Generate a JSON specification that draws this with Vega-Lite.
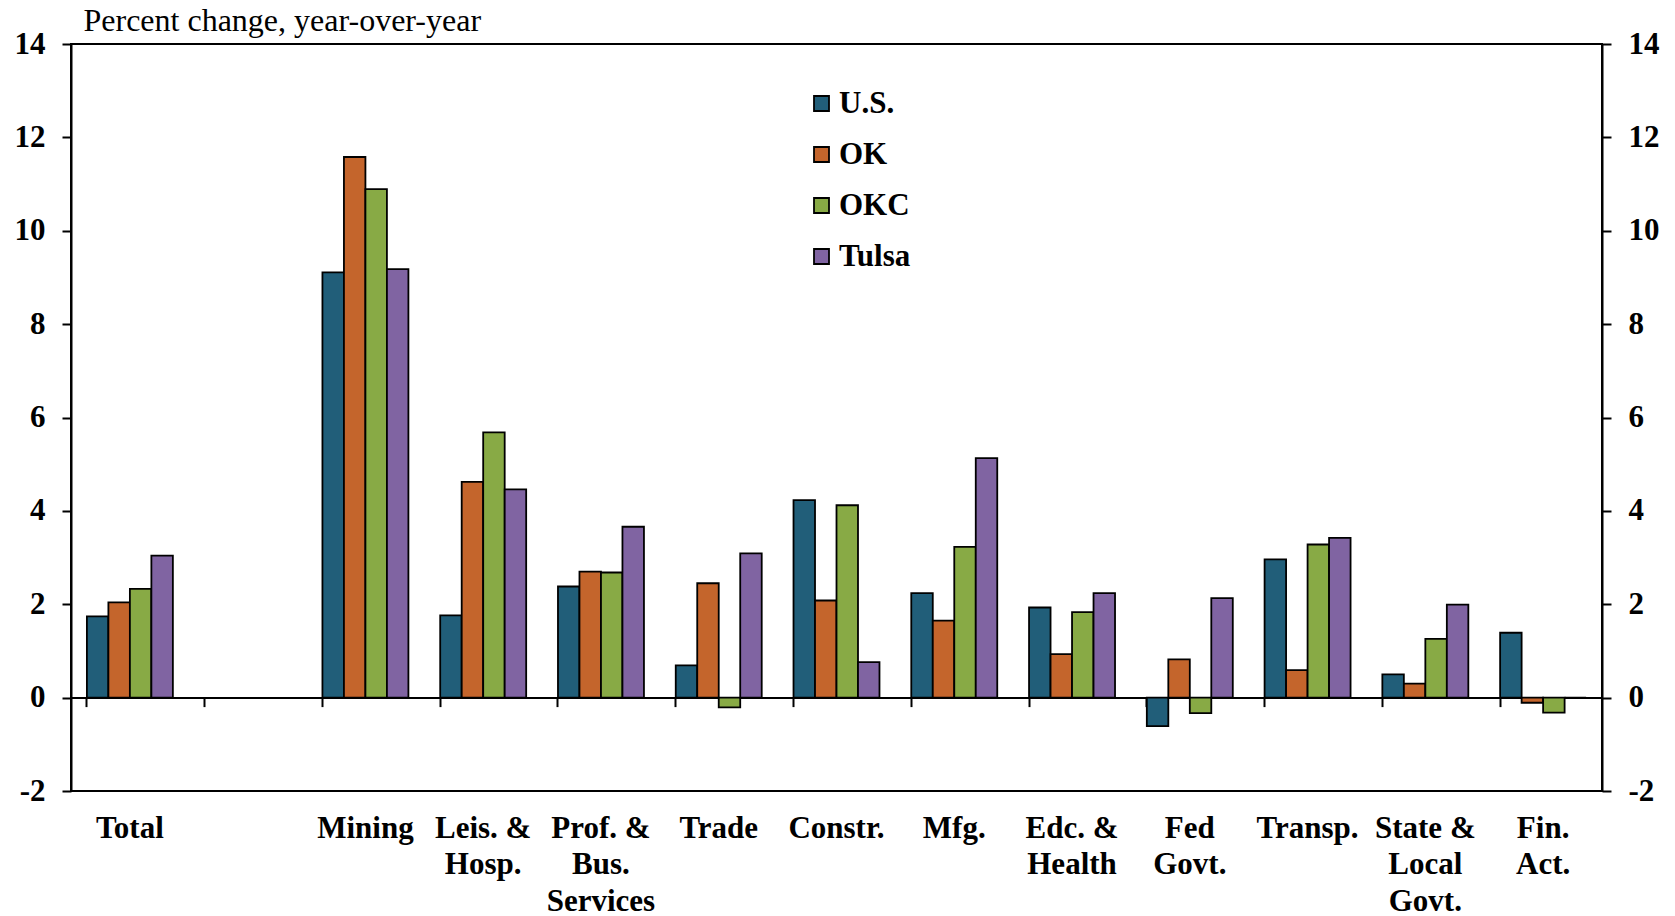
{
  "$schema": "https://vega.github.io/schema/vega-lite/v6.json",
  "autosize": {"type": "none"},
  "width": 1531,
  "height": 747,
  "padding": {"left": 71, "top": 44, "right": 73, "bottom": 125},
  "background": "white",
  "config": {
    "view": {"stroke": "black", "strokeWidth": 2},
    "font": "Liberation Serif"
  },
  "data": {
    "values": [
      {"cat": "Total", "series": "U.S.", "value": 1.74},
      {"cat": "Total", "series": "OK", "value": 2.04},
      {"cat": "Total", "series": "OKC", "value": 2.33},
      {"cat": "Total", "series": "Tulsa", "value": 3.04},
      {"cat": "Mining", "series": "U.S.", "value": 9.11},
      {"cat": "Mining", "series": "OK", "value": 11.58},
      {"cat": "Mining", "series": "OKC", "value": 10.89},
      {"cat": "Mining", "series": "Tulsa", "value": 9.18},
      {"cat": "Leis. &|Hosp.", "series": "U.S.", "value": 1.76},
      {"cat": "Leis. &|Hosp.", "series": "OK", "value": 4.62},
      {"cat": "Leis. &|Hosp.", "series": "OKC", "value": 5.68},
      {"cat": "Leis. &|Hosp.", "series": "Tulsa", "value": 4.46},
      {"cat": "Prof. &|Bus.|Services", "series": "U.S.", "value": 2.38},
      {"cat": "Prof. &|Bus.|Services", "series": "OK", "value": 2.7},
      {"cat": "Prof. &|Bus.|Services", "series": "OKC", "value": 2.68},
      {"cat": "Prof. &|Bus.|Services", "series": "Tulsa", "value": 3.66},
      {"cat": "Trade", "series": "U.S.", "value": 0.69},
      {"cat": "Trade", "series": "OK", "value": 2.45},
      {"cat": "Trade", "series": "OKC", "value": -0.21},
      {"cat": "Trade", "series": "Tulsa", "value": 3.09},
      {"cat": "Constr.", "series": "U.S.", "value": 4.23},
      {"cat": "Constr.", "series": "OK", "value": 2.08},
      {"cat": "Constr.", "series": "OKC", "value": 4.12},
      {"cat": "Constr.", "series": "Tulsa", "value": 0.76},
      {"cat": "Mfg.", "series": "U.S.", "value": 2.24},
      {"cat": "Mfg.", "series": "OK", "value": 1.65},
      {"cat": "Mfg.", "series": "OKC", "value": 3.23},
      {"cat": "Mfg.", "series": "Tulsa", "value": 5.13},
      {"cat": "Edc. &|Health", "series": "U.S.", "value": 1.93},
      {"cat": "Edc. &|Health", "series": "OK", "value": 0.93},
      {"cat": "Edc. &|Health", "series": "OKC", "value": 1.83},
      {"cat": "Edc. &|Health", "series": "Tulsa", "value": 2.24},
      {"cat": "Fed|Govt.", "series": "U.S.", "value": -0.61},
      {"cat": "Fed|Govt.", "series": "OK", "value": 0.82},
      {"cat": "Fed|Govt.", "series": "OKC", "value": -0.33},
      {"cat": "Fed|Govt.", "series": "Tulsa", "value": 2.13},
      {"cat": "Transp.", "series": "U.S.", "value": 2.96},
      {"cat": "Transp.", "series": "OK", "value": 0.59},
      {"cat": "Transp.", "series": "OKC", "value": 3.28},
      {"cat": "Transp.", "series": "Tulsa", "value": 3.42},
      {"cat": "State &|Local|Govt.", "series": "U.S.", "value": 0.5},
      {"cat": "State &|Local|Govt.", "series": "OK", "value": 0.3},
      {"cat": "State &|Local|Govt.", "series": "OKC", "value": 1.26},
      {"cat": "State &|Local|Govt.", "series": "Tulsa", "value": 1.99},
      {"cat": "Fin.|Act.", "series": "U.S.", "value": 1.39},
      {"cat": "Fin.|Act.", "series": "OK", "value": -0.11},
      {"cat": "Fin.|Act.", "series": "OKC", "value": -0.32},
      {"cat": "Fin.|Act.", "series": "Tulsa", "value": 0.0}
    ]
  },
  "layer": [
    {
      "mark": {"type": "bar", "stroke": "black", "strokeWidth": 1.8},
      "encoding": {
        "x": {
          "field": "cat",
          "type": "nominal",
          "sort": null,
          "scale": {
            "domain": ["Total", "_", "Mining", "Leis. &|Hosp.", "Prof. &|Bus.|Services", "Trade", "Constr.", "Mfg.", "Edc. &|Health", "Fed|Govt.", "Transp.", "State &|Local|Govt.", "Fin.|Act."],
            "paddingInner": 0.27,
            "paddingOuter": 0.135
          },
          "axis": {
            "title": null,
            "domain": false,
            "ticks": false,
            "labelAngle": 0,
            "labelAlign": "center",
            "labelBaseline": "top",
            "labelPadding": 22,
            "labelFont": "Liberation Serif",
            "labelFontWeight": "bold",
            "labelFontSize": 31,
            "labelLineHeight": 36.5,
            "labelColor": "black",
            "labelOverlap": false,
            "labelExpr": "datum.label == '_' ? '' : split(datum.label, '|')"
          }
        },
        "xOffset": {
          "field": "series",
          "type": "nominal",
          "sort": ["U.S.", "OK", "OKC", "Tulsa"],
          "scale": {"paddingInner": 0, "paddingOuter": 0}
        },
        "y": {
          "field": "value",
          "type": "quantitative",
          "scale": {"domain": [-2, 14], "nice": false, "zero": false},
          "axis": {
            "orient": "left",
            "values": [-2, 0, 2, 4, 6, 8, 10, 12, 14],
            "grid": false,
            "domainColor": "black",
            "domainWidth": 2,
            "tickColor": "black",
            "tickWidth": 2,
            "tickSize": 9,
            "labelPadding": 17,
            "labelFont": "Liberation Serif",
            "labelFontWeight": "bold",
            "labelFontSize": 31,
            "labelColor": "black",
            "labelExpr": "'' + datum.value",
            "title": "Percent change, year-over-year",
            "titleAngle": 0,
            "titleAlign": "left",
            "titleBaseline": "alphabetic",
            "titleX": 12,
            "titleY": -14,
            "titleFont": "Liberation Serif",
            "titleFontWeight": "normal",
            "titleFontSize": 32,
            "titleColor": "black"
          }
        },
        "color": {
          "field": "series",
          "type": "nominal",
          "sort": ["U.S.", "OK", "OKC", "Tulsa"],
          "scale": {
            "domain": ["U.S.", "OK", "OKC", "Tulsa"],
            "range": ["#215E79", "#C4652C", "#88AA45", "#8064A2"]
          },
          "legend": {
            "title": null,
            "orient": "none",
            "legendX": 735,
            "legendY": 44,
            "symbolType": "square",
            "symbolSize": 225,
            "symbolStrokeColor": "black",
            "symbolStrokeWidth": 1.8,
            "symbolOpacity": 1,
            "labelFont": "Liberation Serif",
            "labelFontWeight": "bold",
            "labelFontSize": 31,
            "labelColor": "black",
            "labelOffset": 2,
            "rowPadding": 19
          }
        }
      }
    },
    {
      "mark": {"type": "bar", "opacity": 0},
      "encoding": {
        "x": {
          "field": "cat",
          "type": "nominal",
          "sort": null,
          "axis": {
            "title": null,
            "orient": "bottom",
            "offset": -93.4,
            "bandPosition": 0,
            "labels": false,
            "domain": true,
            "domainColor": "black",
            "domainWidth": 2,
            "ticks": true,
            "tickColor": "black",
            "tickWidth": 2,
            "tickSize": 9
          }
        },
        "xOffset": {"field": "series", "type": "nominal", "sort": ["U.S.", "OK", "OKC", "Tulsa"]},
        "y": {
          "field": "value",
          "type": "quantitative",
          "axis": {
            "orient": "right",
            "values": [-2, 0, 2, 4, 6, 8, 10, 12, 14],
            "grid": false,
            "domainColor": "black",
            "domainWidth": 2,
            "tickColor": "black",
            "tickWidth": 2,
            "tickSize": 9,
            "labelPadding": 17,
            "labelFont": "Liberation Serif",
            "labelFontWeight": "bold",
            "labelFontSize": 31,
            "labelColor": "black",
            "labelExpr": "'' + datum.value",
            "title": null
          }
        }
      }
    }
  ],
  "resolve": {"axis": {"x": "independent", "y": "independent"}}
}
